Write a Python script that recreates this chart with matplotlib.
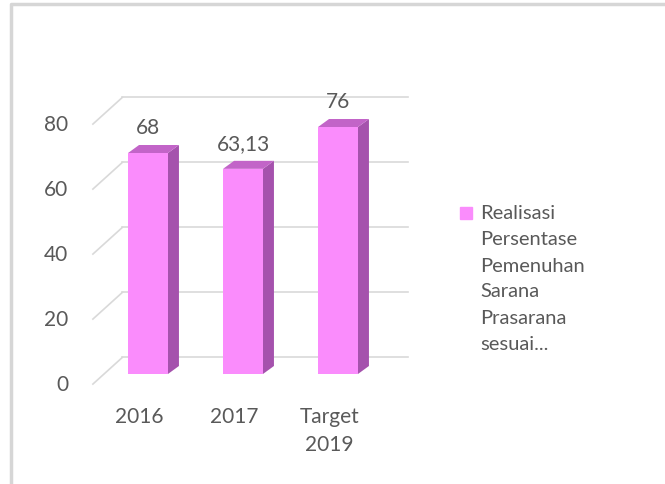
import matplotlib.pyplot as plt
from matplotlib.patches import Polygon, Rectangle

categories = ["2016", "2017", "Target\n2019"]
values = [68, 63.13, 76]
value_labels = ["68", "63,13", "76"]
y_ticks = [0, 20, 40, 60, 80]
legend_lines = ["Realisasi", "Persentase", "Pemenuhan", "Sarana", "Prasarana", "sesuai..."]

W, H = 665, 485
FRONT = "#fa8cfc"
SIDE = "#a552ad"
TOP = "#c264c8"
GRID = "#d9d9d9"
TXT = "#595959"

plt.rcParams['font.family'] = ['Lato', 'DejaVu Sans']

fig = plt.figure(figsize=(W / 100, H / 100), dpi=100)
ax = fig.add_axes([0, 0, 1, 1])
# one category = 95 px, one unit of value = 3.25 px; bar 0 centred at x=148 px, base at y=375 px from top
ax.set_xlim(-148 / 95, (W - 148) / 95)
ax.set_ylim(-(H - 375) / 3.25, 375 / 3.25)
ax.axis("off")

# 3D offsets (data units)
bar_w = 0.42
bdx, bdy = 11 / 95, 8 / 3.25          # bar depth
front_x, front_dy = -0.58, -3.1        # front edge of floor
back_x, back_dy = -0.27, 5.1           # back wall
back_end = 2.74

# back wall gridlines and side wall diagonals
for t in y_ticks:
    ax.plot([back_x, back_end], [t + back_dy, t + back_dy], color=GRID, lw=1.2, zorder=1)
    ax.plot([front_x, back_x], [t + front_dy, t + back_dy], color=GRID, lw=1.2, zorder=1)
    ax.text(front_x - 0.26, t + front_dy, str(t), ha="right", va="center",
            fontsize=15, color=TXT)

# bars
for i, v in enumerate(values):
    x0, x1 = i - bar_w / 2, i + bar_w / 2
    ax.add_patch(Polygon([(x1, 0), (x1 + bdx, bdy), (x1 + bdx, v + bdy), (x1, v)],
                         closed=True, facecolor=SIDE, edgecolor="none", zorder=3))
    ax.add_patch(Polygon([(x0, v), (x1, v), (x1 + bdx, v + bdy), (x0 + bdx, v + bdy)],
                         closed=True, facecolor=TOP, edgecolor="none", zorder=3))
    ax.add_patch(Rectangle((x0, 0), bar_w, v, facecolor=FRONT, edgecolor="none", zorder=4))
    ax.text(i, v + 8.0, value_labels[i], ha="center", va="center", fontsize=15, color=TXT)

# category labels
for i, c in enumerate(categories):
    ax.text(i - 0.09, -9.7, c, ha="center", va="top", fontsize=15, color=TXT,
            linespacing=1.5)

# legend
ax.plot([466 / W], [1 - 214 / H], marker="s", markersize=8, color=FRONT,
        transform=ax.transAxes, clip_on=False)
for k, line in enumerate(legend_lines):
    ax.text(480 / W, 1 - (214 + 26 * k) / H, line, ha="left", va="center",
            fontsize=14.5, color=TXT, transform=ax.transAxes)

# chart area border
ax.plot([11 / W, 11 / W, 1], [0, 1 - 5 / H, 1 - 5 / H], color="#d6d6d6", lw=2.5,
        transform=ax.transAxes, clip_on=False)

fig.savefig("out.png", dpi=100, facecolor="white")
